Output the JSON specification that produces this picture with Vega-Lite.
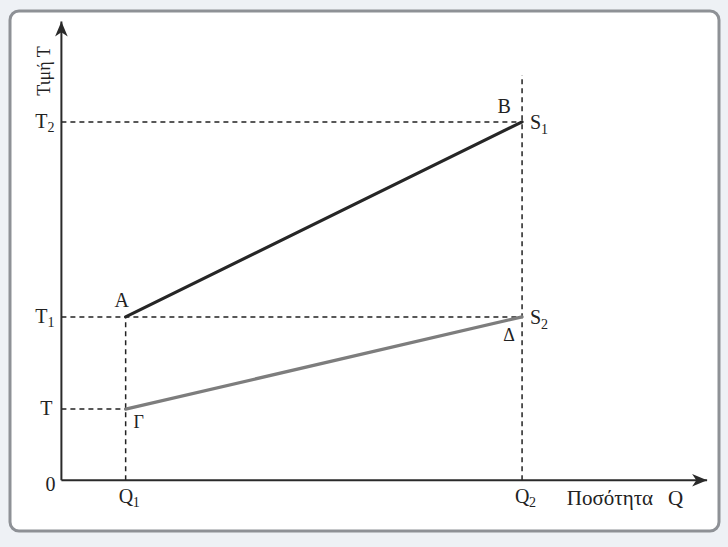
{
  "$schema": "https://vega.github.io/schema/vega-lite/v6.json",
  "width": 709,
  "height": 520,
  "autosize": {"type": "none"},
  "padding": {"left": 10, "top": 11, "right": 9, "bottom": 16},
  "background": "#eef1f5",
  "config": {
    "view": {"fill": "white", "stroke": "#8e9196", "strokeWidth": 3, "cornerRadius": 9}
  },
  "datasets": {
    "axes": [
      {"axis": "Q", "x1": 0, "y1": 0, "x2": 10.05, "y2": 0},
      {"axis": "T", "x1": 0, "y1": 0, "x2": 0, "y2": 10}
    ],
    "guides": [
      {"to": "T2", "x1": 0, "y1": 7.81, "x2": 7.17, "y2": 7.81},
      {"to": "T1", "x1": 0, "y1": 3.56, "x2": 7.17, "y2": 3.56},
      {"to": "T", "x1": 0, "y1": 1.55, "x2": 1, "y2": 1.55},
      {"to": "Q1", "x1": 1, "y1": 0, "x2": 1, "y2": 3.56},
      {"to": "Q2", "x1": 7.17, "y1": 0, "x2": 7.17, "y2": 8.83}
    ],
    "supply": [
      {"curve": "S1", "q": 1, "p": 3.56},
      {"curve": "S1", "q": 7.17, "p": 7.81},
      {"curve": "S2", "q": 1, "p": 1.55},
      {"curve": "S2", "q": 7.17, "p": 3.56}
    ],
    "priceTicks": [
      {"label": "T", "sub": "2", "x": 0, "y": 7.81},
      {"label": "T", "sub": "1", "x": 0, "y": 3.56}
    ],
    "quantityTicks": [
      {"label": "Q", "sub": "1", "x": 1, "y": 0},
      {"label": "Q", "sub": "2", "x": 7.17, "y": 0}
    ],
    "curveNames": [
      {"label": "S", "sub": "1", "x": 7.17, "y": 7.81},
      {"label": "S", "sub": "2", "x": 7.17, "y": 3.56}
    ]
  },
  "layer": [
    {
      "data": {"name": "guides"},
      "mark": {"type": "rule", "strokeDash": [5, 4], "strokeWidth": 1.5, "color": "#222222"},
      "encoding": {
        "x": {"field": "x1", "type": "quantitative", "scale": {"domain": [-0.8, 10.235], "nice": false, "zero": false}, "axis": null},
        "y": {"field": "y1", "type": "quantitative", "scale": {"domain": [-1.107, 10.227], "nice": false, "zero": false}, "axis": null},
        "x2": {"field": "x2"},
        "y2": {"field": "y2"}
      }
    },
    {
      "data": {"name": "supply"},
      "mark": {"type": "line", "strokeWidth": 3.2, "strokeCap": "round"},
      "encoding": {
        "x": {"field": "q", "type": "quantitative"},
        "y": {"field": "p", "type": "quantitative"},
        "color": {"field": "curve", "type": "nominal", "scale": {"domain": ["S1", "S2"], "range": ["#262626", "#7d7d7d"]}, "legend": null}
      }
    },
    {
      "data": {"name": "axes"},
      "mark": {"type": "rule", "strokeWidth": 2, "color": "#2a2a2a"},
      "encoding": {
        "x": {"field": "x1", "type": "quantitative"},
        "y": {"field": "y1", "type": "quantitative"},
        "x2": {"field": "x2"},
        "y2": {"field": "y2"}
      }
    },
    {
      "data": {"values": [{"axis": "T", "x": 0, "y": 10}]},
      "mark": {"type": "point", "shape": "M0,0L0.42,1L0,0.72L-0.42,1Z", "size": 900, "filled": true, "color": "#2a2a2a", "opacity": 1},
      "encoding": {
        "x": {"field": "x", "type": "quantitative"},
        "y": {"field": "y", "type": "quantitative"}
      }
    },
    {
      "data": {"values": [{"axis": "Q", "x": 10.05, "y": 0}]},
      "mark": {"type": "point", "shape": "M0,0L0.42,1L0,0.72L-0.42,1Z", "size": 900, "angle": 90, "filled": true, "color": "#2a2a2a", "opacity": 1},
      "encoding": {
        "x": {"field": "x", "type": "quantitative"},
        "y": {"field": "y", "type": "quantitative"}
      }
    },
    {
      "data": {"name": "priceTicks"},
      "mark": {"type": "text", "font": "Liberation Serif", "fontSize": 20, "color": "#222222", "align": "right", "baseline": "middle", "dx": -14},
      "encoding": {
        "x": {"field": "x", "type": "quantitative"},
        "y": {"field": "y", "type": "quantitative"},
        "text": {"field": "label"}
      }
    },
    {
      "data": {"name": "priceTicks"},
      "mark": {"type": "text", "font": "Liberation Serif", "fontSize": 14, "color": "#222222", "align": "right", "baseline": "middle", "dx": -7, "dy": 6},
      "encoding": {
        "x": {"field": "x", "type": "quantitative"},
        "y": {"field": "y", "type": "quantitative"},
        "text": {"field": "sub"}
      }
    },
    {
      "data": {"values": [{"label": "T", "x": 0, "y": 1.55}]},
      "mark": {"type": "text", "font": "Liberation Serif", "fontSize": 20, "color": "#222222", "align": "right", "baseline": "middle", "dx": -9},
      "encoding": {
        "x": {"field": "x", "type": "quantitative"},
        "y": {"field": "y", "type": "quantitative"},
        "text": {"field": "label"}
      }
    },
    {
      "data": {"values": [{"label": "0", "x": 0, "y": 0}]},
      "mark": {"type": "text", "font": "Liberation Serif", "fontSize": 20, "color": "#222222", "align": "right", "baseline": "middle", "dx": -6, "dy": 5},
      "encoding": {
        "x": {"field": "x", "type": "quantitative"},
        "y": {"field": "y", "type": "quantitative"},
        "text": {"field": "label"}
      }
    },
    {
      "data": {"name": "quantityTicks"},
      "mark": {"type": "text", "font": "Liberation Serif", "fontSize": 20, "color": "#222222", "align": "left", "baseline": "middle", "dx": -7, "dy": 17},
      "encoding": {
        "x": {"field": "x", "type": "quantitative"},
        "y": {"field": "y", "type": "quantitative"},
        "text": {"field": "label"}
      }
    },
    {
      "data": {"name": "quantityTicks"},
      "mark": {"type": "text", "font": "Liberation Serif", "fontSize": 14, "color": "#222222", "align": "left", "baseline": "middle", "dx": 7, "dy": 23},
      "encoding": {
        "x": {"field": "x", "type": "quantitative"},
        "y": {"field": "y", "type": "quantitative"},
        "text": {"field": "sub"}
      }
    },
    {
      "data": {"values": [{"label": "Ποσότητα", "x": 10.05, "y": 0}]},
      "mark": {"type": "text", "font": "Liberation Serif", "fontSize": 21, "color": "#222222", "align": "right", "baseline": "middle", "dx": -54, "dy": 19},
      "encoding": {
        "x": {"field": "x", "type": "quantitative"},
        "y": {"field": "y", "type": "quantitative"},
        "text": {"field": "label"}
      }
    },
    {
      "data": {"values": [{"label": "Q", "x": 10.05, "y": 0}]},
      "mark": {"type": "text", "font": "Liberation Serif", "fontSize": 21, "color": "#222222", "align": "right", "baseline": "middle", "dx": -24, "dy": 19},
      "encoding": {
        "x": {"field": "x", "type": "quantitative"},
        "y": {"field": "y", "type": "quantitative"},
        "text": {"field": "label"}
      }
    },
    {
      "data": {"values": [{"label": "Τιμή Τ", "x": 0, "y": 8.92}]},
      "mark": {"type": "text", "font": "Liberation Serif", "fontSize": 18, "color": "#222222", "angle": 270, "align": "center", "baseline": "alphabetic", "dy": -11},
      "encoding": {
        "x": {"field": "x", "type": "quantitative"},
        "y": {"field": "y", "type": "quantitative"},
        "text": {"field": "label"}
      }
    },
    {
      "data": {"values": [{"label": "A", "x": 1, "y": 3.56}]},
      "mark": {"type": "text", "font": "Liberation Serif", "fontSize": 20, "color": "#222222", "align": "center", "baseline": "middle", "dx": -4, "dy": -16},
      "encoding": {
        "x": {"field": "x", "type": "quantitative"},
        "y": {"field": "y", "type": "quantitative"},
        "text": {"field": "label"}
      }
    },
    {
      "data": {"values": [{"label": "Β", "x": 7.17, "y": 7.81}]},
      "mark": {"type": "text", "font": "Liberation Serif", "fontSize": 20, "color": "#222222", "align": "center", "baseline": "middle", "dx": -18, "dy": -15},
      "encoding": {
        "x": {"field": "x", "type": "quantitative"},
        "y": {"field": "y", "type": "quantitative"},
        "text": {"field": "label"}
      }
    },
    {
      "data": {"name": "curveNames"},
      "mark": {"type": "text", "font": "Liberation Serif", "fontSize": 20, "color": "#222222", "align": "left", "baseline": "middle", "dx": 8, "dy": 1},
      "encoding": {
        "x": {"field": "x", "type": "quantitative"},
        "y": {"field": "y", "type": "quantitative"},
        "text": {"field": "label"}
      }
    },
    {
      "data": {"name": "curveNames"},
      "mark": {"type": "text", "font": "Liberation Serif", "fontSize": 14, "color": "#222222", "align": "left", "baseline": "middle", "dx": 19, "dy": 8},
      "encoding": {
        "x": {"field": "x", "type": "quantitative"},
        "y": {"field": "y", "type": "quantitative"},
        "text": {"field": "sub"}
      }
    },
    {
      "data": {"values": [{"label": "Δ", "x": 7.17, "y": 3.56}]},
      "mark": {"type": "text", "font": "Liberation Serif", "fontSize": 18, "color": "#222222", "align": "center", "baseline": "middle", "dx": -13, "dy": 19},
      "encoding": {
        "x": {"field": "x", "type": "quantitative"},
        "y": {"field": "y", "type": "quantitative"},
        "text": {"field": "label"}
      }
    },
    {
      "data": {"values": [{"label": "Γ", "x": 1, "y": 1.55}]},
      "mark": {"type": "text", "font": "Liberation Serif", "fontSize": 18, "color": "#222222", "align": "center", "baseline": "middle", "dx": 13, "dy": 14},
      "encoding": {
        "x": {"field": "x", "type": "quantitative"},
        "y": {"field": "y", "type": "quantitative"},
        "text": {"field": "label"}
      }
    }
  ]
}
